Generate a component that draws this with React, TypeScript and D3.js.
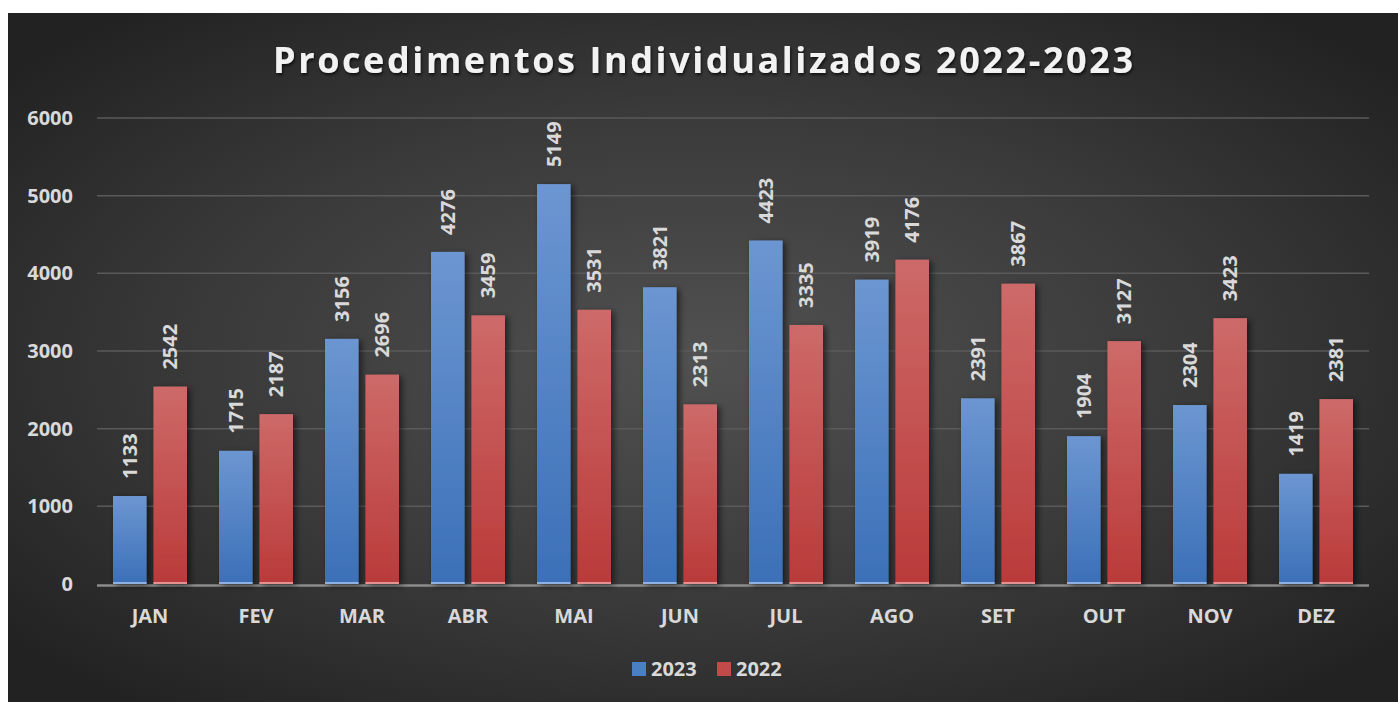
import React from 'react';
import * as d3 from 'd3';

const MONTHS = ['JAN', 'FEV', 'MAR', 'ABR', 'MAI', 'JUN', 'JUL', 'AGO', 'SET', 'OUT', 'NOV', 'DEZ'];
const SERIES = ['2023', '2022'];
const VALUES_2023 = [1133, 1715, 3156, 4276, 5149, 3821, 4423, 3919, 2391, 1904, 2304, 1419];
const VALUES_2022 = [2542, 2187, 2696, 3459, 3531, 2313, 3335, 4176, 3867, 3127, 3423, 2381];
const Y_TICKS = [0, 1000, 2000, 3000, 4000, 5000, 6000];

const W = 1398;
const H = 702;
const FONT = '"Open Sans", "Noto Sans", sans-serif';
const TXT = '#d9d9d9';

const App: React.FC = () => {
  // layout
  const plot = { left: 97, right: 1369, top: 118, bottom: 584 };

  const x = d3.scaleBand().domain(MONTHS).range([plot.left, plot.right]).padding(0);
  const xs = d3.scaleBand().domain(SERIES).range([16, 90]).paddingInner(0.17).paddingOuter(0);
  const y = d3.scaleLinear().domain([0, 6000]).range([plot.bottom, plot.top]);

  const rows = MONTHS.map((m, i) => ({ month: m, vals: [VALUES_2023[i], VALUES_2022[i]] }));
  const fills = ['url(#gBlue)', 'url(#gRed)'];
  const edges = ['#8fb1e2', '#e39292'];
  const legendFill = ['#4a7fc4', '#c24a48'];

  return (
    <svg width={W} height={H} style={{ position: 'absolute', left: 0, top: 0, display: 'block' }}>
      <defs>
        <radialGradient id="bg" cx="50%" cy="50%" r="65%">
          <stop offset="0%" stopColor="#515151" />
          <stop offset="55%" stopColor="#3a3a3a" />
          <stop offset="100%" stopColor="#222222" />
        </radialGradient>
        <linearGradient id="gBlue" x1="0" y1="0" x2="0" y2="1">
          <stop offset="0%" stopColor="#6c96d1" />
          <stop offset="100%" stopColor="#3b70b8" />
        </linearGradient>
        <linearGradient id="gRed" x1="0" y1="0" x2="0" y2="1">
          <stop offset="0%" stopColor="#cd6a69" />
          <stop offset="100%" stopColor="#ba3a39" />
        </linearGradient>
        <filter id="shadow" x="-30%" y="-10%" width="170%" height="130%">
          <feDropShadow dx="3" dy="2" stdDeviation="3" floodColor="#000" floodOpacity="0.55" />
        </filter>
        <filter id="tshadow" x="-5%" y="-30%" width="110%" height="170%">
          <feDropShadow dx="1" dy="2" stdDeviation="1.5" floodColor="#000" floodOpacity="0.7" />
        </filter>
      </defs>

      <rect x={0} y={0} width={W} height={H} fill="#ffffff" />
      <rect x={8} y={13} width={W - 8} height={H - 13} fill="url(#bg)" />

      <text
        x={703}
        y={73}
        textAnchor="middle"
        fill="#f2f2f2"
        fontFamily={FONT}
        fontWeight={700}
        fontSize={36}
        textLength={860}
        lengthAdjust="spacing"
        filter="url(#tshadow)"
      >
        Procedimentos Individualizados 2022-2023
      </text>

      {/* grid */}
      {Y_TICKS.filter(t => t > 0).map(t => (
        <line key={t} x1={plot.left} x2={plot.right} y1={y(t)} y2={y(t)} stroke="#5a5a5a" strokeWidth={1.5} />
      ))}
      {Y_TICKS.map(t => (
        <text key={'yl' + t} x={73} y={y(t) + 7} textAnchor="end" fill={TXT}
          fontFamily={FONT} fontWeight={700} fontSize={20}>
          {t}
        </text>
      ))}

      {/* axis line */}
      <line x1={plot.left} x2={plot.right} y1={y(0) + 1.5} y2={y(0) + 1.5} stroke="#8c8c8c" strokeWidth={2.5} />

      {/* bars */}
      {rows.map(r => (
        <g key={r.month} transform={`translate(${x(r.month)},0)`}>
          {r.vals.map((v, si) => {
            const bx = xs(SERIES[si])!;
            const bw = xs.bandwidth();
            return (
              <g key={si}>
                <rect x={bx} y={y(v)} width={bw} height={y(0) - y(v)} fill={fills[si]} filter="url(#shadow)" />
                <rect x={bx} y={y(0) - 2} width={bw} height={2} fill={edges[si]} />
                <text
                  transform={`translate(${bx + bw / 2 + 7},${y(v) - 17}) rotate(-90)`}
                  fill={TXT}
                  fontFamily={FONT}
                  fontWeight={700}
                  fontSize={20}
                >
                  {v}
                </text>
              </g>
            );
          })}
          <text x={x.bandwidth() / 2} y={623} textAnchor="middle" fill={TXT}
            fontFamily={FONT} fontWeight={700} fontSize={20}>
            {r.month}
          </text>
        </g>
      ))}

      {/* legend */}
      {SERIES.map((s, i) => (
        <g key={s} transform={`translate(${632 + i * 85},662)`}>
          <rect x={0} y={0} width={14} height={14} fill={legendFill[i]} />
          <text x={19} y={14} fill={TXT} fontFamily={FONT} fontWeight={700} fontSize={20}>{s}</text>
        </g>
      ))}
    </svg>
  );
};

export default App;
